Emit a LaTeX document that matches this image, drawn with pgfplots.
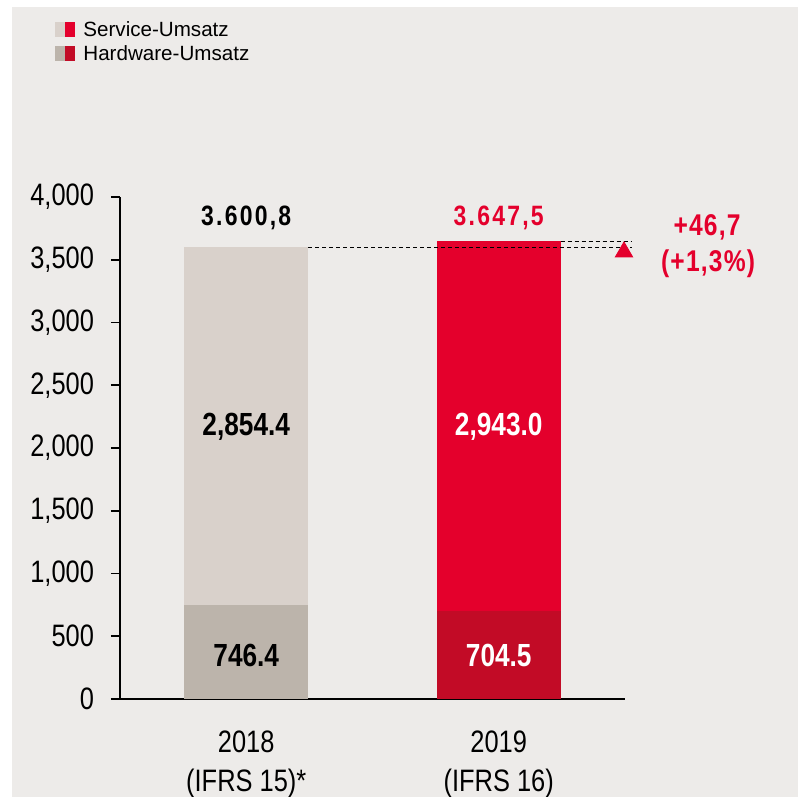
\documentclass[border=0pt]{standalone}
\usepackage{fontspec}
\setmainfont{Liberation Sans}
\newfontfamily\narrow{Liberation Sans}[FakeStretch=0.82]
\newfontfamily\narrowsp{Liberation Sans}[FakeStretch=0.82,LetterSpace=8]
\newfontfamily\narrowsm{Liberation Sans}[FakeStretch=0.82,LetterSpace=4]
\usepackage{pgfplots}
\pgfplotsset{compat=1.18}
\definecolor{bg}{HTML}{EDEBE9}
\definecolor{lgrey}{HTML}{D9D1CB}
\definecolor{dgrey}{HTML}{BCB4AB}
\definecolor{tred}{HTML}{E4002C}
\definecolor{dred}{HTML}{C20B26}
\begin{document}
\begin{tikzpicture}
\useasboundingbox (0,0) rectangle (399pt,398.5pt);
% background (1px = 0.5pt)
\fill[white] (0,0) rectangle (399pt,398.5pt);
\fill[bg] (6pt,0) rectangle (399pt,395pt);
% legend
\fill[lgrey] (27.5pt,{(797-22)*0.5pt}) rectangle (32.5pt,{(797-37)*0.5pt});
\fill[tred] (32.5pt,{(797-22)*0.5pt}) rectangle (37.5pt,{(797-37)*0.5pt});
\fill[dgrey] (27.5pt,{(797-46)*0.5pt}) rectangle (32.5pt,{(797-61)*0.5pt});
\fill[dred] (32.5pt,{(797-46)*0.5pt}) rectangle (37.5pt,{(797-61)*0.5pt});
\node[anchor=west,inner sep=0pt,font=\fontsize{10.3}{12}\selectfont] at (41.5pt,{(797-29.5)*0.5pt}) {Service-Umsatz};
\node[anchor=west,inner sep=0pt,font=\fontsize{10.3}{12}\selectfont] at (41.5pt,{(797-53.5)*0.5pt}) {Hardware-Umsatz};
\begin{axis}[
  at={(60pt,49pt)}, anchor=south west,
  scale only axis, width=252.5pt, height=251pt,
  xmin=0, xmax=2, ymin=0, ymax=4000,
  clip=false,
  axis lines=left, axis line style={-, line width=0.8pt, black},
  ytick={0,500,...,4000},
  yticklabel style={font=\narrow\fontsize{15.5}{18}\selectfont, xshift=-5pt},
  /pgf/number format/.cd, 1000 sep={,}, assume math mode=true,
  /pgfplots/.cd,
  tick align=outside, major tick length=4.5pt,
  tick style={black, line width=0.8pt},
  xtick={0.5,1.5},
  xticklabels={{2018\\(IFRS 15)*},{2019\\(IFRS 16)}},
  xticklabel style={font=\narrow\fontsize{15.5}{19.5}\selectfont, align=center, yshift=-8pt},
  x tick style={draw=none},
  extra x ticks={0,1,2}, extra x tick labels={},
  extra x tick style={tick style={draw=black, line width=0.8pt}, major tick length=5pt},
]
% totals (service on top of hardware), then hardware parts over them
\addplot[ybar, bar shift=0pt, bar width=0.49, fill=lgrey, draw=none] coordinates {(0.5,3600.8)};
\addplot[ybar, bar shift=0pt, bar width=0.49, fill=tred, draw=none] coordinates {(1.5,3647.5)};
\addplot[ybar, bar shift=0pt, bar width=0.49, fill=dgrey, draw=none] coordinates {(0.5,746.4)};
\addplot[ybar, bar shift=0pt, bar width=0.49, fill=dred, draw=none] coordinates {(1.5,704.5)};
\addplot[sharp plot, black, dash pattern=on 2pt off 1.5pt, line width=0.5pt, mark=none] coordinates {(0.745,3600.8) (2.028,3600.8)};
\addplot[sharp plot, black, dash pattern=on 2pt off 1.5pt, line width=0.5pt, mark=none] coordinates {(1.745,3647.5) (2.028,3647.5)};
\addplot[only marks, mark=triangle*, mark size=5pt, color=tred] coordinates {(1.996,3562)};
\node[font=\narrowsp\bfseries\fontsize{14}{16}\selectfont] at (axis cs:0.5,3833) {3.600,8};
\node[font=\narrowsp\bfseries\fontsize{14}{16}\selectfont, text=tred] at (axis cs:1.5,3833) {3.647,5};
\node[font=\narrow\bfseries\fontsize{16}{18}\selectfont] at (axis cs:0.5,2167) {2,854.4};
\node[font=\narrow\bfseries\fontsize{16}{18}\selectfont, text=white] at (axis cs:1.5,2167) {2,943.0};
\node[font=\narrow\bfseries\fontsize{16}{18}\selectfont] at (axis cs:0.5,350) {746.4};
\node[font=\narrow\bfseries\fontsize{16}{18}\selectfont, text=white] at (axis cs:1.5,350) {704.5};
\node[font=\narrowsm\bfseries\fontsize{15}{17}\selectfont, text=tred] at (axis cs:2.325,3761) {+46,7};
\node[font=\narrowsm\bfseries\fontsize{15}{17}\selectfont, text=tred] at (axis cs:2.329,3466) {(+1,3\%)};
\end{axis}
\end{tikzpicture}
\end{document}
